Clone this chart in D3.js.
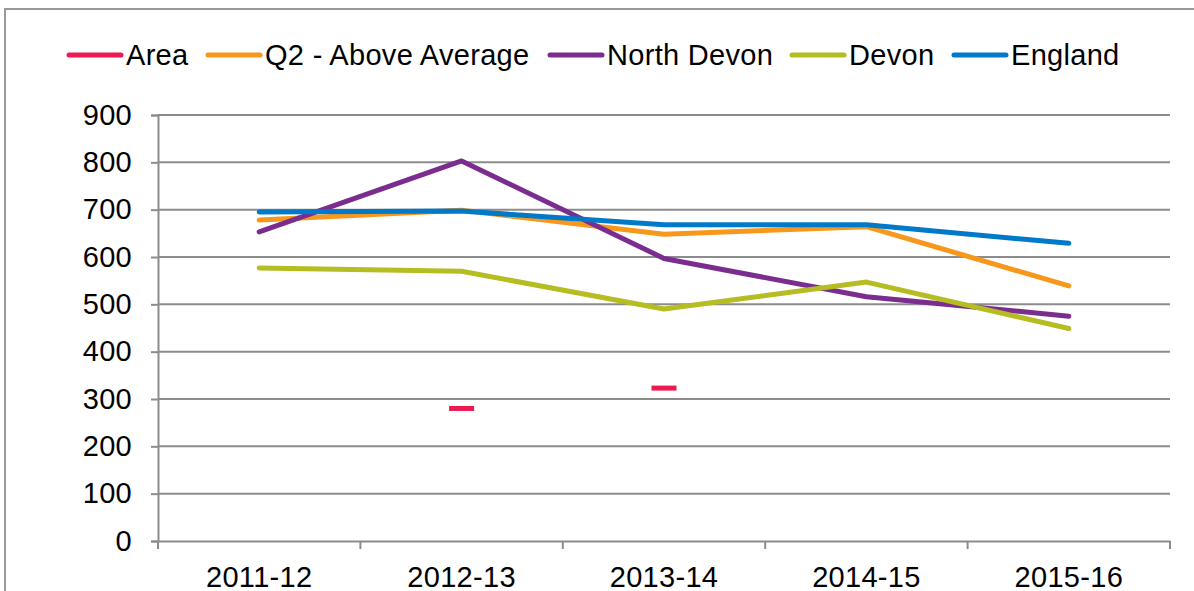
<!DOCTYPE html>
<html><head><meta charset="utf-8">
<script src="https://cdn.jsdelivr.net/npm/d3@7"></script>
<style>body{margin:0;background:#fff;}svg{display:block;font-family:"Liberation Sans",Arial,sans-serif;}</style>
</head><body>
<script>
const categories = ["2011-12","2012-13","2013-14","2014-15","2015-16"];
const seriesNames = ["Area","Q2 - Above Average","North Devon","Devon","England"];
const seriesColors = ["#ED1A52","#F7981D","#7B2C8F","#B5BD22","#0079C9"];
const areaValues = [null, 280, 323, null, null];
const q2Values = [678, 699, 648, 664, 539];
const northDevonValues = [653, 803, 597, 516, 475];
const devonValues = [577, 570, 490, 547, 449];
const englandValues = [695, 697, 668, 668, 629];
const yTicks = [0,100,200,300,400,500,600,700,800,900];

(function(){
const W = 1194, H = 591;
const FS = 29, LS = 0.3;
const svg = d3.select("body").append("svg").attr("width", W).attr("height", H);

// outer border
svg.append("rect").attr("x",5).attr("y",9).attr("width",1200).attr("height",700)
  .attr("fill","none").attr("stroke","#999").attr("stroke-width",2);

const pLeft = 158, pRight = 1170, pTop = 115, pBottom = 541;
const x = d3.scaleBand().domain(categories).range([pLeft, pRight]);
const y = d3.scaleLinear().domain([0, 900]).range([pBottom, pTop]);

// gridlines
svg.append("g").selectAll("line").data(yTicks.filter(d=>d>0)).join("line")
  .attr("x1", pLeft).attr("x2", pRight).attr("y1", d=>y(d)).attr("y2", d=>y(d))
  .attr("stroke","#8c8c8c").attr("stroke-width",2);

// y axis
const yAxis = svg.append("g").attr("transform",`translate(${pLeft},0)`)
  .call(d3.axisLeft(y).tickValues(yTicks).tickSize(7).tickPadding(19));
yAxis.select(".domain").attr("stroke","#8c8c8c").attr("stroke-width",2);
yAxis.selectAll(".tick line").attr("stroke","#8c8c8c").attr("stroke-width",2);
yAxis.selectAll("text").attr("font-size",FS).attr("letter-spacing",LS).attr("fill","#000")
  .attr("font-family","Liberation Sans, Arial, sans-serif");

// x axis
const xAxis = svg.append("g").attr("transform",`translate(0,${pBottom})`)
  .call(d3.axisBottom(x).tickSize(0).tickPadding(25));
xAxis.select(".domain").attr("stroke","#8c8c8c").attr("stroke-width",2);
xAxis.selectAll("text").attr("font-size",FS).attr("letter-spacing",LS).attr("fill","#000")
  .attr("font-family","Liberation Sans, Arial, sans-serif");
const bounds = categories.map(c=>x(c)).concat([x(categories[categories.length-1]) + x.bandwidth()]);
svg.append("g").selectAll("line").data(bounds).join("line")
  .attr("x1",d=>d).attr("x2",d=>d).attr("y1",pBottom).attr("y2",pBottom+8)
  .attr("stroke","#8c8c8c").attr("stroke-width",2);

const cx = c => x(c) + x.bandwidth()/2;
const lineGen = d3.line().defined(d=>d.v!=null).x(d=>cx(d.c)).y(d=>y(d.v));
const lineSeries = [q2Values, northDevonValues, devonValues, englandValues];
lineSeries.forEach((vals,i)=>{
  const data = categories.map((c,j)=>({c, v: vals[j]}));
  svg.append("path").datum(data).attr("d", lineGen)
    .attr("fill","none").attr("stroke", seriesColors[i+1]).attr("stroke-width",5)
    .attr("stroke-linejoin","round").attr("stroke-linecap","round");
});

// Area series: isolated points shown as short dashes
svg.append("g").selectAll("rect")
  .data(categories.map((c,j)=>({c, v: areaValues[j]})).filter(d=>d.v!=null))
  .join("rect")
  .attr("x", d=>cx(d.c)-12.5).attr("y", d=>y(d.v)-2.5)
  .attr("width",25).attr("height",5).attr("fill", seriesColors[0]);

// legend
const legendX = [68, 207, 549, 791, 953];
const legend = svg.append("g");
seriesNames.forEach((n,i)=>{
  legend.append("line").attr("x1",legendX[i]+1).attr("x2",legendX[i]+53)
    .attr("y1",55).attr("y2",55).attr("stroke",seriesColors[i]).attr("stroke-width",5)
    .attr("stroke-linecap","round");
  legend.append("text").attr("x",legendX[i]+58).attr("y",64.5)
    .attr("font-size",FS).attr("letter-spacing",LS).attr("fill","#000").text(n);
});
})();
</script>
</body></html>
